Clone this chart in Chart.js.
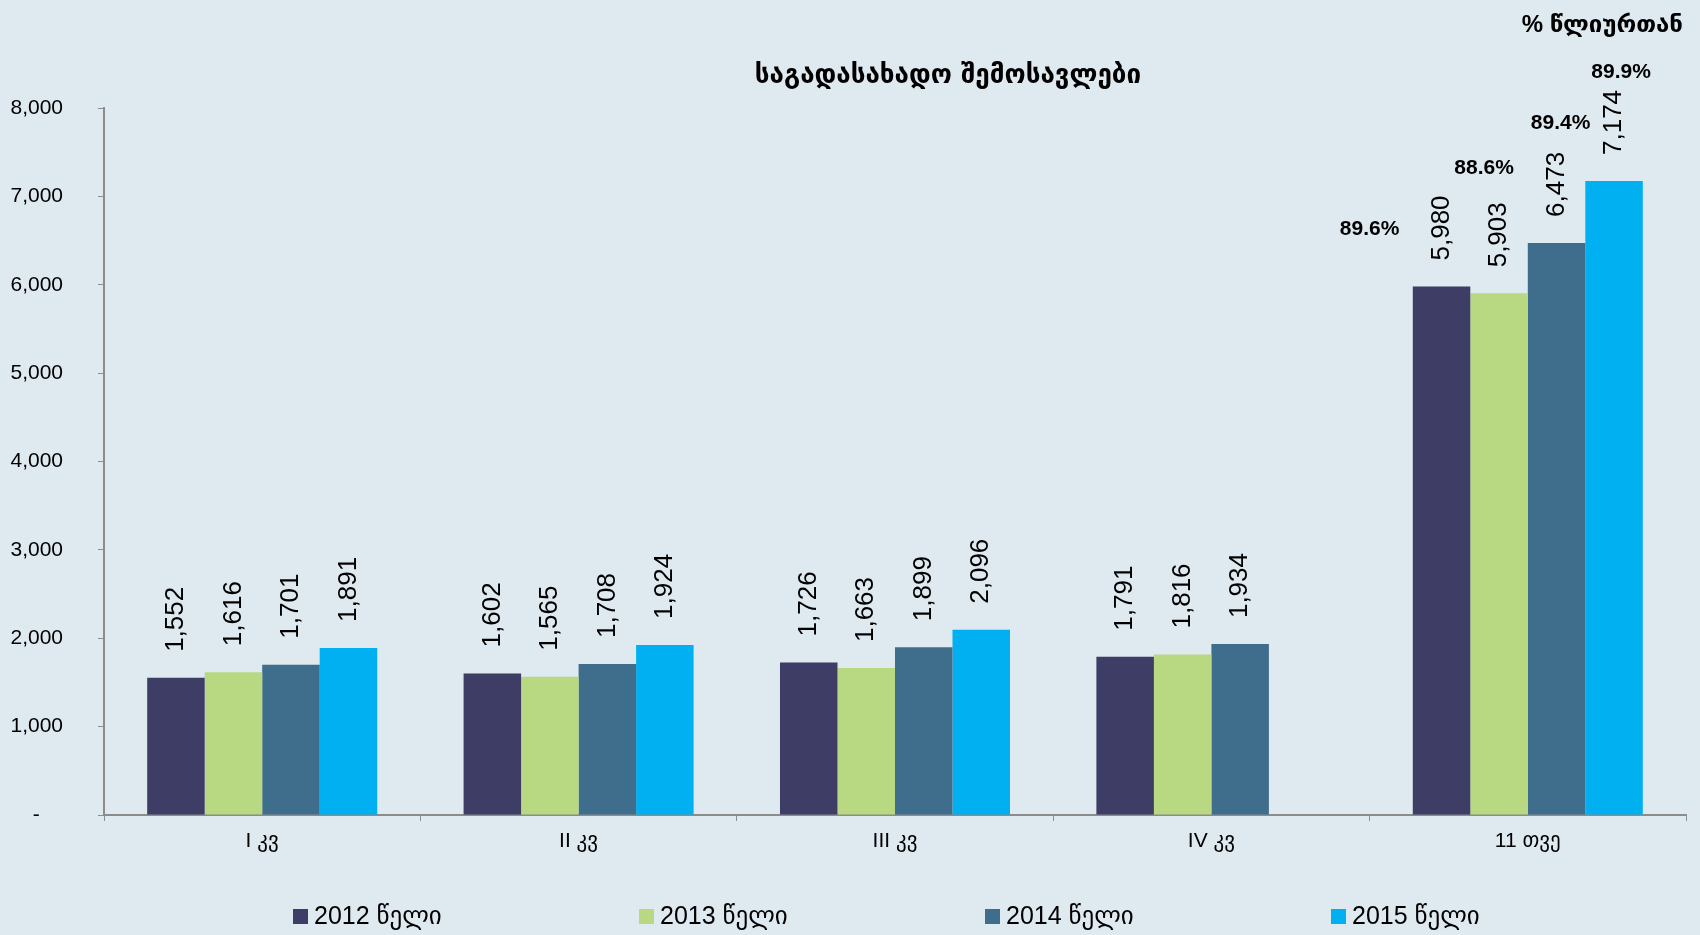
<!DOCTYPE html>
<html>
<head>
<meta charset="utf-8">
<script src="https://cdn.jsdelivr.net/npm/chart.js@4"></script>
<style>
  html, body { margin: 0; padding: 0; background: #dfe9f0; }
  canvas { display: block; }
</style>
</head>
<body>
<canvas id="taxChart" width="1700" height="935"></canvas>
<script>
// Categories and series (mln GEL)
const categories = ['I კვ', 'II კვ', 'III კვ', 'IV კვ', '11 თვე'];
const seriesNames = ['2012 წელი', '2013 წელი', '2014 წელი', '2015 წელი'];
const values2012 = [1552, 1602, 1726, 1791, 5980];
const values2013 = [1616, 1565, 1663, 1816, 5903];
const values2014 = [1701, 1708, 1899, 1934, 6473];
const values2015 = [1891, 1924, 2096, null, 7174];
// % of annual plan, shown over the 11-month bars
const pctLabels = ['89.6%', '88.6%', '89.4%', '89.9%'];

const colors = ['#3d3d66', '#b8d882', '#3f6e8c', '#00b0f0'];
const FONT = '"Liberation Sans", "DejaVu Sans", Arial, sans-serif';
const GEO_FONT = '"DejaVu Sans", sans-serif';

const fmt = v => v.toLocaleString('en-US');

// background, title, value labels, percentage notes, legend
const decorPlugin = {
  id: 'decor',
  beforeDraw(chart) {
    const ctx = chart.ctx;
    ctx.save();
    ctx.fillStyle = '#dfe9f0';
    ctx.fillRect(0, 0, chart.width, chart.height);
    ctx.restore();
  },
  afterDatasetsDraw(chart) {
    const ctx = chart.ctx;
    ctx.save();
    ctx.fillStyle = '#000';

    // rotated value labels above each bar
    ctx.font = '26px ' + FONT;
    ctx.textAlign = 'left';
    ctx.textBaseline = 'middle';
    chart.data.datasets.forEach((ds, di) => {
      chart.getDatasetMeta(di).data.forEach((bar, i) => {
        const v = ds.data[i];
        if (v == null) return;
        ctx.save();
        ctx.translate(bar.x, bar.y - 26);
        ctx.rotate(-Math.PI / 2);
        ctx.fillText(fmt(v), 0, 0);
        ctx.restore();
      });
    });

    // percentage notes over the last group
    const last = categories.length - 1;
    const offs = [[-72, -57], [-15, -125], [4, -120], [7, -109]];
    ctx.font = 'bold 21px ' + FONT;
    ctx.textAlign = 'center';
    pctLabels.forEach((t, di) => {
      const bar = chart.getDatasetMeta(di).data[last];
      ctx.fillText(t, bar.x + offs[di][0], bar.y + offs[di][1]);
    });

    // title
    ctx.font = 'bold 26px ' + GEO_FONT;
    ctx.fillText('საგადასახადო შემოსავლები', 948, 76);
    ctx.textAlign = 'right';
    ctx.font = 'bold 24px ' + FONT;
    ctx.fillText('% წლიურთან', 1683, 25);

    // legend
    ctx.textAlign = 'left';
    ctx.font = '25px ' + FONT;
    seriesNames.forEach((name, i) => {
      const x = 293 + i * 346;
      ctx.fillStyle = colors[i];
      ctx.fillRect(x, 909, 15, 15);
      ctx.fillStyle = '#000';
      ctx.fillText(name, x + 21, 917);
    });
    ctx.restore();
  }
};

const ctx = document.getElementById('taxChart').getContext('2d');
new Chart(ctx, {
  type: 'bar',
  data: {
    labels: categories,
    datasets: [values2012, values2013, values2014, values2015].map((d, i) => ({
      label: seriesNames[i],
      data: d,
      backgroundColor: colors[i],
      borderWidth: 0,
      categoryPercentage: 0.727,
      barPercentage: 1.0
    }))
  },
  options: {
    responsive: false,
    animation: false,
    layout: { padding: { left: 0, right: 14, top: 108, bottom: 0 } },
    plugins: {
      legend: { display: false },
      title: { display: false },
      tooltip: { enabled: false }
    },
    scales: {
      x: {
        grid: {
          drawOnChartArea: false,
          drawTicks: true,
          tickLength: 6,
          color: '#8c8c8c',
          offset: true
        },
        border: { color: '#8c8c8c', width: 2 },
        ticks: {
          color: '#000',
          padding: 8,
          font: { family: FONT, size: 21 }
        },
        afterFit(scale) { scale.height = 120; }
      },
      y: {
        min: 0,
        max: 8000,
        grid: {
          drawOnChartArea: false,
          drawTicks: true,
          tickLength: 6,
          color: '#8c8c8c'
        },
        border: { color: '#8c8c8c', width: 2 },
        ticks: {
          stepSize: 1000,
          color: '#000',
          padding: 35,
          font: { family: FONT, size: 21 },
          callback: v => v === 0 ? '-    ' : fmt(v)
        },
        afterFit(scale) { scale.width = 104; }
      }
    }
  },
  plugins: [decorPlugin]
});
</script>
</body>
</html>
